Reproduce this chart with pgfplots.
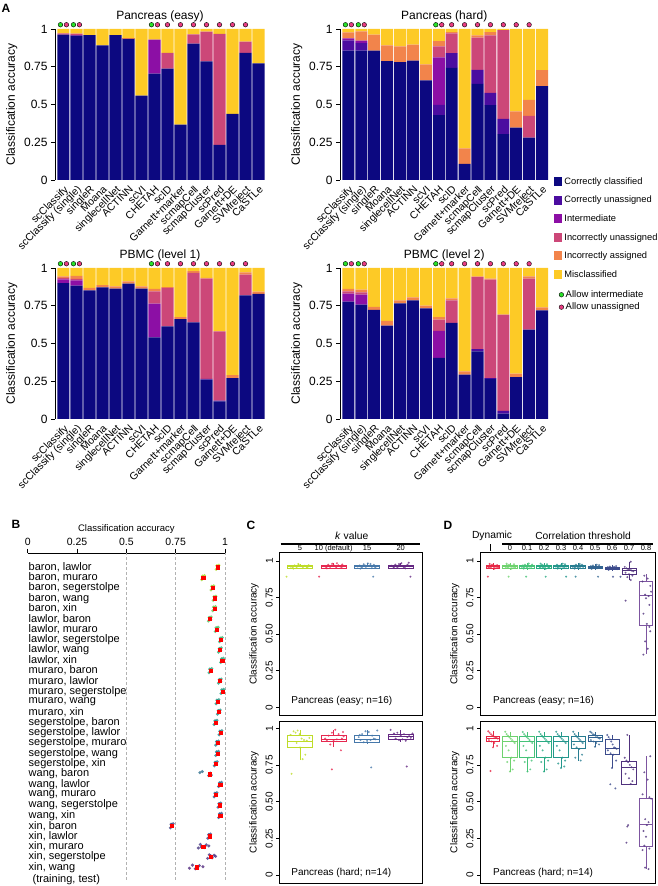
\documentclass[border=0pt]{standalone}
\usepackage{fontspec}
\setmainfont{Liberation Sans}
\usepackage{pgfplots}
\pgfplotsset{compat=1.18}
\usepgfplotslibrary{statistics}
\definecolor{cCC}{RGB}{12,8,128}
\definecolor{cCU}{RGB}{75,12,160}
\definecolor{cInt}{RGB}{140,15,165}
\definecolor{cIU}{RGB}{204,71,120}
\definecolor{cIA}{RGB}{242,132,75}
\definecolor{cMis}{RGB}{253,202,38}
\definecolor{dGreen}{RGB}{40,225,40}
\definecolor{dPink}{RGB}{232,60,130}
\definecolor{c5}{RGB}{190,220,40}
\definecolor{c10}{RGB}{230,40,80}
\definecolor{c15}{RGB}{70,120,170}
\definecolor{c20}{RGB}{100,40,130}
\definecolor{d1}{RGB}{230,40,70}
\definecolor{d2}{RGB}{110,210,110}
\definecolor{d3}{RGB}{70,195,120}
\definecolor{d4}{RGB}{40,170,130}
\definecolor{d5}{RGB}{35,150,140}
\definecolor{d6}{RGB}{40,125,145}
\definecolor{d7}{RGB}{50,100,145}
\definecolor{d8}{RGB}{60,75,140}
\definecolor{d9}{RGB}{80,50,125}
\definecolor{d10}{RGB}{125,85,160}
\tikzset{hd/.style={font=\fontsize{7.5}{7.5}\selectfont, anchor=base, inner sep=0pt, yshift=1.7pt}}
\pgfplotsset{
 Abar/.style={scale only axis, height=151pt, anchor=south west,
  ybar stacked, bar width=0.93,
  xmin=0.35, xmax=16.5, ymin=0, ymax=1,
  axis x line=bottom, axis y line=left, axis line style={-},
  x axis line style={draw=none}, xtick style={draw=none},
  xtick={1,...,16},
  xticklabels={scClassify, scClassify (single), singleR, Moana, singlecellNet, ACTINN, scVI, CHETAH, scID, Garnett+marker, scmapCell, scmapCluster, scPred, Garnett+DE, SVMreject, CaSTLe},
  xticklabel style={rotate=45, anchor=north east, font=\fontsize{10.5}{11}\selectfont, inner sep=0.5pt},
  ytick={0,0.25,0.5,0.75,1}, yticklabels={0,0.25,0.5,0.75,1},
  yticklabel style={font=\fontsize{12}{13}\selectfont},
  tick align=outside, major tick length=4pt, ytick style={black, line width=0.6pt},
  ylabel={Classification accuracy}, ylabel style={font=\fontsize{12}{13}\selectfont},
  clip=false},
 Adot/.style={scale only axis, height=151pt, anchor=south west,
  xmin=0.35, xmax=16.5, ymin=0, ymax=1, hide axis, clip=false},
 gdot/.style={only marks, mark=*, mark size=2.3pt, mark options={fill=dGreen, draw=black, line width=0.4pt}},
 pdot/.style={only marks, mark=*, mark size=2.3pt, mark options={fill=dPink, draw=black, line width=0.4pt}},
 CD/.style={scale only axis, anchor=south west, clip=false,
  boxplot/draw direction=y,
  axis line style={line width=0.9pt},
  xtick=\empty, ytick={0,0.25,0.5,0.75,1}, yticklabels={0,0.25,0.50,0.75,1},
  ytick pos=left, tick align=outside, major tick length=3pt, tick style={line width=0.5pt, black},
  yticklabel style={rotate=90, anchor=south, font=\fontsize{10}{11}\selectfont},
  ylabel={Classification accuracy}, ylabel style={font=\fontsize{10}{11}\selectfont}},
 pts/.style={only marks, mark=*, mark size=1.1pt, color=#1, mark options={draw opacity=0, fill opacity=0.8}},
 bx/.style={draw=#1, line width=0.55pt, solid, fill=none}
}
\begin{document}
\begin{tikzpicture}
\useasboundingbox (0pt,0pt) rectangle (657pt,886pt);
\node[font=\bfseries\fontsize{12}{13}\selectfont] at (6pt,878pt) {A};
\node[font=\bfseries\fontsize{12}{13}\selectfont] at (16pt,362pt) {B};
\node[font=\bfseries\fontsize{12}{13}\selectfont] at (251pt,361pt) {C};
\node[font=\bfseries\fontsize{12}{13}\selectfont] at (448pt,361pt) {D};

% ---------- Pancreas (easy)
\begin{axis}[Abar, at={(55pt,706pt)}, width=210pt]
\addplot[fill=cCC, draw=none] coordinates {(1,.962)(2,.956)(3,.960)(4,.892)(5,.960)(6,.934)(7,.558)(8,.704)(9,.737)(10,.367)(11,.903)(12,.785)(13,.232)(14,.438)(15,.841)(16,.772)};
\addplot[fill=cCU, draw=none] coordinates {(1,0)(2,0)(3,0)(4,0)(5,0)(6,0)(7,0)(8,0)(9,0)(10,0)(11,0)(12,0)(13,0)(14,0)(15,0)(16,0)};
\addplot[fill=cInt, draw=none] coordinates {(1,0)(2,.004)(3,0)(4,0)(5,0)(6,0)(7,0)(8,.225)(9,0)(10,0)(11,0)(12,0)(13,0)(14,0)(15,0)(16,0)};
\addplot[fill=cIU, draw=none] coordinates {(1,.009)(2,.009)(3,0)(4,0)(5,0)(6,0)(7,0)(8,0)(9,.104)(10,0)(11,.062)(12,.197)(13,.735)(14,0)(15,.075)(16,0)};
\addplot[fill=cIA, draw=none] coordinates {(1,0)(2,0)(3,0)(4,0)(5,0)(6,.004)(7,0)(8,0)(9,0)(10,0)(11,0)(12,0)(13,0)(14,0)(15,0)(16,0)};
\addplot[fill=cMis, draw=none] coordinates {(1,.029)(2,.031)(3,.040)(4,.108)(5,.040)(6,.062)(7,.442)(8,.071)(9,.159)(10,.633)(11,.035)(12,.018)(13,.033)(14,.562)(15,.084)(16,.228)};
\node[font=\fontsize{12}{13}\selectfont, anchor=base] at ([yshift=9pt]rel axis cs:0.5,1) {Pancreas (easy)};
\end{axis}
\begin{axis}[Adot, at={(55pt,706pt)}, width=210pt]
\addplot[gdot] coordinates {(0.77,1.028)(1.77,1.028)(7.77,1.028)};
\addplot[pdot] coordinates {(1.23,1.028)(2.23,1.028)(8.23,1.028)(9,1.028)(10,1.028)(11,1.028)(12,1.028)(13,1.028)(14,1.028)(15,1.028)};
\end{axis}

% ---------- Pancreas (hard)
\begin{axis}[Abar, at={(340pt,706pt)}, width=208.5pt,
  legend cell align=left,
  legend image code/.code={\fill[#1] (0pt,-4.5pt) rectangle (8.5pt,4.5pt);},
  legend style={at={(1.025,0.03)}, anchor=north west, draw=none, fill=none, font=\fontsize{9.3}{10}\selectfont, row sep=6.3pt, inner sep=0pt}]
\addplot[fill=cCC, draw=none] coordinates {(1,.856)(2,.856)(3,.856)(4,.788)(5,.781)(6,.790)(7,.659)(8,.429)(9,.743)(10,.106)(11,.637)(12,.496)(13,.303)(14,.347)(15,.281)(16,.622)};
\addlegendentry{Correctly classified}
\addplot[fill=cCU, draw=none] coordinates {(1,.069)(2,.051)(3,0)(4,0)(5,0)(6,0)(7,0)(8,.069)(9,.098)(10,0)(11,.093)(12,.081)(13,.102)(14,0)(15,0)(16,0)};
\addlegendentry{Correctly unassigned}
\addplot[fill=cInt, draw=none] coordinates {(1,.013)(2,.016)(3,0)(4,0)(5,0)(6,0)(7,0)(8,.314)(9,0)(10,0)(11,0)(12,0)(13,0)(14,0)(15,0)(16,0)};
\addlegendentry{Intermediate}
\addplot[fill=cIU, draw=none] coordinates {(1,0)(2,0)(3,0)(4,0)(5,0)(6,0)(7,0)(8,.073)(9,.130)(10,0)(11,.212)(12,.381)(13,.588)(14,0)(15,.144)(16,0)};
\addlegendentry{Incorrectly unassigned}
\addplot[fill=cIA, draw=none] coordinates {(1,.040)(2,.062)(3,.106)(4,.104)(5,.104)(6,.106)(7,.106)(8,.035)(9,.009)(10,.104)(11,.016)(12,.022)(13,0)(14,.107)(15,.106)(16,.106)};
\addlegendentry{Incorrectly assigned}
\addplot[fill=cMis, draw=none] coordinates {(1,.022)(2,.015)(3,.038)(4,.108)(5,.115)(6,.104)(7,.235)(8,.080)(9,.020)(10,.790)(11,.042)(12,.020)(13,.007)(14,.546)(15,.469)(16,.272)};
\addlegendentry{Misclassified}
\node[font=\fontsize{12}{13}\selectfont, anchor=base] at ([yshift=9pt]rel axis cs:0.5,1) {Pancreas (hard)};
\end{axis}
\begin{axis}[Adot, at={(340pt,706pt)}, width=208.5pt]
\addplot[gdot] coordinates {(0.77,1.028)(1.77,1.028)(7.77,1.028)};
\addplot[pdot] coordinates {(1.23,1.028)(2.23,1.028)(8.23,1.028)(9,1.028)(10,1.028)(11,1.028)(12,1.028)(13,1.028)(14,1.028)(15,1.028)};
\end{axis}

% ---------- PBMC (level 1)
\begin{axis}[Abar, at={(55pt,467pt)}, width=210pt]
\addplot[fill=cCC, draw=none] coordinates {(1,.900)(2,.883)(3,.852)(4,.872)(5,.863)(6,.896)(7,.863)(8,.541)(9,.614)(10,.662)(11,.640)(12,.260)(13,.117)(14,.271)(15,.819)(16,.828)};
\addplot[fill=cCU, draw=none] coordinates {(1,0)(2,0)(3,0)(4,0)(5,0)(6,0)(7,0)(8,0)(9,0)(10,0)(11,0)(12,.005)(13,.004)(14,0)(15,0)(16,0)};
\addplot[fill=cInt, draw=none] coordinates {(1,.025)(2,.035)(3,0)(4,0)(5,0)(6,0)(7,0)(8,.223)(9,0)(10,0)(11,0)(12,0)(13,0)(14,0)(15,0)(16,0)};
\addplot[fill=cIU, draw=none] coordinates {(1,.010)(2,.010)(3,0)(4,0)(5,0)(6,0)(7,0)(8,.081)(9,.254)(10,0)(11,.327)(12,.664)(13,.460)(14,0)(15,.137)(16,0)};
\addplot[fill=cIA, draw=none] coordinates {(1,.010)(2,.020)(3,.016)(4,.015)(5,.016)(6,.016)(7,.016)(8,.016)(9,.006)(10,.013)(11,.013)(12,.006)(13,0)(14,.019)(15,.015)(16,.015)};
\addplot[fill=cMis, draw=none] coordinates {(1,.055)(2,.052)(3,.132)(4,.113)(5,.121)(6,.088)(7,.121)(8,.139)(9,.126)(10,.325)(11,.020)(12,.065)(13,.419)(14,.710)(15,.029)(16,.157)};
\node[font=\fontsize{12}{13}\selectfont, anchor=base] at ([yshift=9pt]rel axis cs:0.5,1) {PBMC (level 1)};
\end{axis}
\begin{axis}[Adot, at={(55pt,467pt)}, width=210pt]
\addplot[gdot] coordinates {(0.77,1.028)(1.77,1.028)(7.77,1.028)};
\addplot[pdot] coordinates {(1.23,1.028)(2.23,1.028)(8.23,1.028)(9,1.028)(10,1.028)(11,1.028)(12,1.028)(13,1.028)(14,1.028)(15,1.028)};
\end{axis}

% ---------- PBMC (level 2)
\begin{axis}[Abar, at={(340pt,467pt)}, width=208.5pt]
\addplot[fill=cCC, draw=none] coordinates {(1,.777)(2,.757)(3,.722)(4,.618)(5,.766)(6,.786)(7,.733)(8,.404)(9,.636)(10,.294)(11,.448)(12,.265)(13,.035)(14,.278)(15,.592)(16,.720)};
\addplot[fill=cCU, draw=none] coordinates {(1,0)(2,0)(3,0)(4,0)(5,0)(6,0)(7,0)(8,0)(9,0)(10,0)(11,.015)(12,.005)(13,.018)(14,0)(15,0)(16,0)};
\addplot[fill=cInt, draw=none] coordinates {(1,.053)(2,.066)(3,0)(4,0)(5,0)(6,0)(7,0)(8,.179)(9,0)(10,0)(11,0)(12,0)(13,0)(14,0)(15,0)(16,0)};
\addplot[fill=cIU, draw=none] coordinates {(1,.015)(2,.015)(3,0)(4,0)(5,0)(6,0)(7,0)(8,.075)(9,.150)(10,0)(11,.477)(12,.653)(13,.638)(14,0)(15,.337)(16,0)};
\addplot[fill=cIA, draw=none] coordinates {(1,.016)(2,.019)(3,.020)(4,.031)(5,.020)(6,.020)(7,.018)(8,.017)(9,.013)(10,.022)(11,.005)(12,.007)(13,0)(14,.022)(15,.016)(16,.019)};
\addplot[fill=cMis, draw=none] coordinates {(1,.139)(2,.143)(3,.258)(4,.351)(5,.214)(6,.194)(7,.249)(8,.325)(9,.201)(10,.684)(11,.055)(12,.070)(13,.309)(14,.700)(15,.055)(16,.261)};
\node[font=\fontsize{12}{13}\selectfont, anchor=base] at ([yshift=9pt]rel axis cs:0.5,1) {PBMC (level 2)};
\end{axis}
\begin{axis}[Adot, at={(340pt,467pt)}, width=208.5pt,
  legend cell align=left,
  legend image code/.code={\draw[#1] plot coordinates {(3pt,0pt)};},
  legend style={at={(1.05,0.865)}, anchor=north west, draw=none, fill=none, font=\fontsize{9.5}{10}\selectfont, row sep=0pt, inner sep=0pt}]
\addplot[gdot] coordinates {(0.77,1.028)(1.77,1.028)(7.77,1.028)};
\addlegendentry{Allow intermediate}
\addplot[pdot] coordinates {(1.23,1.028)(2.23,1.028)(8.23,1.028)(9,1.028)(10,1.028)(11,1.028)(12,1.028)(13,1.028)(14,1.028)(15,1.028)};
\addlegendentry{Allow unassigned}
\end{axis}

% ---------- B
\begin{axis}[scale only axis, at={(27.7pt,6pt)}, anchor=south west, width=197.3pt, height=327pt,
  xmin=0, xmax=1, ymin=-1.24, ymax=30.38, clip=false,
  axis x line=top, axis y line=left, axis line style={-},
  y axis line style={draw=none}, ytick style={draw=none},
  xtick={0,0.25,0.5,0.75,1}, xticklabels={0,0.25,0.5,0.75,1},
  xticklabel style={font=\fontsize{10.5}{11}\selectfont},
  tick align=outside, major tick length=4pt, xtick style={black, line width=0.6pt},
  xlabel={Classification accuracy}, xlabel style={font=\fontsize{9.5}{10}\selectfont, yshift=-10pt},
  extra x ticks={0.5,0.75,1}, extra x tick labels={},
  extra x tick style={grid=major, major grid style={densely dashed, gray!60, line width=0.4pt}, tick style={draw=none}},
  ytick={0,...,29},
  yticklabels={{xin, wang},{xin, segerstolpe},{xin, muraro},{xin, lawlor},{xin, baron},{wang, xin},{wang, segerstolpe},{wang, muraro},{wang, lawlor},{wang, baron},{segerstolpe, xin},{segerstolpe, wang},{segerstolpe, muraro},{segerstolpe, lawlor},{segerstolpe, baron},{muraro, xin},{muraro, wang},{muraro, segerstolpe},{muraro, lawlor},{muraro, baron},{lawlor, xin},{lawlor, wang},{lawlor, segerstolpe},{lawlor, muraro},{lawlor, baron},{baron, xin},{baron, wang},{baron, segerstolpe},{baron, muraro},{baron, lawlor}},
  yticklabel style={anchor=west, inner sep=0pt, xshift=4.8pt, font=\fontsize{11}{11}\selectfont},
  colormap={bmap}{rgb255=(80,40,125) rgb255=(50,100,142) rgb255=(33,145,140) rgb255=(53,183,121) rgb255=(184,222,41)},
  point meta min=0, point meta max=29]
\addplot[scatter, only marks, mark=*, mark size=1.7pt, point meta=y,
  scatter/use mapped color={draw opacity=0, fill=mapped color, fill opacity=0.8}] coordinates {
(.955,28.8)(.959,29.15)(.966,28.95)(.969,29.2)(.962,29.1)
(.882,27.8)(.886,28.15)(.893,27.95)(.896,28.2)(.889,28.1)
(.929,26.8)(.933,27.15)(.940,26.95)(.943,27.2)(.936,27.1)
(.940,25.8)(.944,26.15)(.951,25.95)(.954,26.2)(.947,26.1)
(.938,24.8)(.942,25.15)(.949,24.95)(.952,25.2)(.945,25.1)
(.916,23.8)(.920,24.15)(.927,23.95)(.930,24.2)(.923,24.1)
(.951,22.8)(.955,23.15)(.962,22.95)(.965,23.2)(.958,23.1)
(.972,21.8)(.976,22.15)(.983,21.95)(.986,22.2)(.979,22.1)
(.967,20.8)(.971,21.15)(.978,20.95)(.981,21.2)(.974,21.1)
(.978,19.8)(.982,20.15)(.989,19.95)(.992,20.2)(.985,20.1)
(.919,18.8)(.923,19.15)(.930,18.95)(.933,19.2)(.926,19.1)
(.967,17.8)(.971,18.15)(.978,17.95)(.981,18.2)(.974,18.1)
(.980,16.8)(.984,17.15)(.991,16.95)(.994,17.2)(.987,17.1)
(.955,15.8)(.959,16.15)(.966,15.95)(.969,16.2)(.962,16.1)
(.962,14.8)(.966,15.15)(.973,14.95)(.976,15.2)(.969,15.1)
(.945,13.8)(.949,14.15)(.956,13.95)(.959,14.2)(.952,14.1)
(.970,12.8)(.974,13.15)(.981,12.95)(.984,13.2)(.977,13.1)
(.953,11.8)(.957,12.15)(.964,11.95)(.967,12.2)(.960,12.1)
(.953,10.8)(.957,11.15)(.964,10.95)(.967,11.2)(.960,11.1)
(.946,9.8)(.950,10.15)(.957,9.95)(.960,10.2)(.953,10.1)
(.873,9.15)(.885,9.25)(.917,8.85)(.925,9.1)(.930,8.9)
(.968,7.8)(.972,8.15)(.979,7.95)(.982,8.2)(.975,8.1)
(.945,6.8)(.949,7.15)(.956,6.95)(.959,7.2)(.952,7.1)
(.965,5.8)(.969,6.15)(.976,5.95)(.979,6.2)(.972,6.1)
(.968,4.8)(.972,5.15)(.979,4.95)(.982,5.2)(.975,5.1)
(.723,3.8)(.727,4.15)(.734,3.95)(.737,4.2)(.730,4.1)
(.913,2.8)(.917,3.15)(.924,2.95)(.927,3.2)(.920,3.1)
(.865,1.85)(.875,2.2)(.895,1.9)(.905,2.15)(.918,2.05)(.880,1.95)
(.912,0.85)(.920,1.2)(.935,0.9)(.945,1.15)(.952,1.05)(.928,1.1)
(.820,-0.1)(.835,0.2)(.850,-0.15)(.870,0.15)(.888,0.05)(.860,-0.05)};
\addplot[only marks, mark=square*, mark size=1.6pt, color=red] coordinates {
(.963,29)(.890,28)(.937,27)(.948,26)(.946,25)(.924,24)(.959,23)(.980,22)(.975,21)(.986,20)(.927,19)(.975,18)(.988,17)(.963,16)(.970,15)(.953,14)(.978,13)(.961,12)(.961,11)(.954,10)(.921,9)(.976,8)(.953,7)(.973,6)(.976,5)(.731,4)(.921,3)(.889,2)(.927,1)(.856,0)};
\node[anchor=west, inner sep=0pt, xshift=4.8pt, font=\fontsize{11}{11}\selectfont] at (axis cs:0,-1.24) {(training, test)};
\end{axis}

% ---------- C upper
\begin{axis}[CD, at={(279.3pt,171pt)}, width=143.4pt, height=162.3pt, xmin=0.384, xmax=4.655, ymin=-0.053, ymax=1.057]
\addplot[bx=c5, boxplot prepared={draw position=1, lower whisker=.945, lower quartile=.952, median=.962, upper quartile=.972, upper whisker=.982, box extend=0.75, whisker extend=0}] coordinates {};
\addplot[bx=c10, boxplot prepared={draw position=2, lower whisker=.945, lower quartile=.952, median=.962, upper quartile=.972, upper whisker=.985, box extend=0.75, whisker extend=0}] coordinates {};
\addplot[bx=c15, boxplot prepared={draw position=3, lower whisker=.945, lower quartile=.952, median=.962, upper quartile=.972, upper whisker=.985, box extend=0.75, whisker extend=0}] coordinates {};
\addplot[bx=c20, boxplot prepared={draw position=4, lower whisker=.945, lower quartile=.952, median=.962, upper quartile=.972, upper whisker=.988, box extend=0.75, whisker extend=0}] coordinates {};
\addplot[pts=c5] coordinates {(0.72,.962)(0.78,.955)(0.84,.970)(0.9,.958)(0.96,.975)(1.02,.965)(1.08,.952)(1.14,.968)(1.2,.96)(1.26,.972)(0.8,.948)(0.95,.98)(1.1,.962)(1.22,.955)(0.6,.893)};
\addplot[pts=c10] coordinates {(1.72,.965)(1.78,.958)(1.84,.975)(1.9,.96)(1.96,.982)(2.02,.968)(2.08,.955)(2.14,.972)(2.2,.962)(2.26,.976)(1.8,.95)(1.95,.97)(2.1,.985)(2.24,.958)(1.57,.893)};
\addplot[pts=c15] coordinates {(2.72,.962)(2.78,.97)(2.84,.955)(2.9,.978)(2.96,.96)(3.02,.984)(3.08,.966)(3.14,.952)(3.2,.974)(3.26,.962)(2.8,.948)(2.95,.968)(3.1,.98)(3.24,.958)(3.18,.893)};
\addplot[pts=c20] coordinates {(3.72,.968)(3.78,.96)(3.84,.975)(3.9,.955)(3.96,.97)(4.02,.985)(4.08,.962)(4.14,.95)(4.2,.975)(4.26,.965)(3.8,.952)(3.95,.98)(4.1,.958)(4.24,.988)(4.29,.893)};
\node[anchor=west, font=\fontsize{10}{11}\selectfont] at (rel axis cs:0.06,0.087) {Pancreas (easy; n=16)};
\draw[line width=2.2pt] ([yshift=8.7pt]rel axis cs:0.01,1) -- ([yshift=8.7pt]rel axis cs:0.981,1);
\node[hd] at (axis cs:1,1.057) {5};
\node[hd] at (axis cs:2,1.057) {10 (default)};
\node[hd] at (axis cs:3,1.057) {15};
\node[hd] at (axis cs:4,1.057) {20};
\node[font=\fontsize{10.3}{11}\selectfont] at ([yshift=16.7pt]rel axis cs:0.505,1) {\textit{k} value};
\end{axis}

% ---------- C lower
\begin{axis}[CD, at={(279.3pt,2.7pt)}, width=143.4pt, height=162.3pt, xmin=0.384, xmax=4.655, ymin=-0.057, ymax=1.05]
\addplot[bx=c5, boxplot prepared={draw position=1, lower whisker=.784, lower quartile=.868, median=.909, upper quartile=.955, upper whisker=.99, box extend=0.75, whisker extend=0}] coordinates {};
\addplot[bx=c10, boxplot prepared={draw position=2, lower whisker=.875, lower quartile=.914, median=.925, upper quartile=.95, upper whisker=.99, box extend=0.75, whisker extend=0}] coordinates {};
\addplot[bx=c15, boxplot prepared={draw position=3, lower whisker=.89, lower quartile=.905, median=.925, upper quartile=.95, upper whisker=.99, box extend=0.75, whisker extend=0}] coordinates {};
\addplot[bx=c20, boxplot prepared={draw position=4, lower whisker=.91, lower quartile=.925, median=.943, upper quartile=.96, upper whisker=.99, box extend=0.75, whisker extend=0}] coordinates {};
\addplot[pts=c5] coordinates {(0.72,.955)(0.81,.98)(0.87,.97)(0.93,.985)(0.99,.96)(1.05,.93)(1.12,.92)(1.2,.915)(0.9,.90)(1.0,.87)(1.16,.82)(1.08,.79)(0.75,.69)(1.28,.935)};
\addplot[pts=c10] coordinates {(1.75,.93)(1.85,.95)(1.95,.97)(2.05,.99)(2.15,.96)(2.25,.93)(1.8,.92)(2.0,.915)(2.1,.925)(2.3,.945)(1.9,.89)(2.22,.85)(1.95,.72)(2.28,.975)};
\addplot[pts=c15] coordinates {(2.75,.94)(2.85,.96)(2.95,.98)(3.05,.975)(3.15,.95)(3.25,.925)(2.8,.92)(3.0,.915)(3.2,.93)(3.3,.985)(2.9,.905)(3.1,.92)(3.12,.733)(2.78,.955)};
\addplot[pts=c20] coordinates {(3.7,.99)(3.8,.965)(3.9,.97)(4.0,.95)(4.1,.96)(4.2,.94)(4.3,.935)(3.85,.93)(3.95,.92)(4.05,.925)(4.15,.915)(4.25,.955)(4.18,.74)(4.35,.965)};
\node[anchor=west, font=\fontsize{10}{11}\selectfont] at (rel axis cs:0.06,0.062) {Pancreas (hard; n=14)};
\end{axis}

% ---------- D upper
\begin{axis}[CD, at={(480pt,171pt)}, width=175pt, height=162.3pt, xmin=0.235, xmax=10.53, ymin=-0.053, ymax=1.057]
\addplot[bx=d1, boxplot prepared={draw position=1, lower whisker=.94, lower quartile=.952, median=.962, upper quartile=.972, upper whisker=.985, box extend=0.75, whisker extend=0}] coordinates {};
\addplot[bx=d2, boxplot prepared={draw position=2, lower whisker=.94, lower quartile=.952, median=.962, upper quartile=.972, upper whisker=.985, box extend=0.88, whisker extend=0}] coordinates {};
\addplot[bx=d3, boxplot prepared={draw position=3, lower whisker=.94, lower quartile=.952, median=.962, upper quartile=.972, upper whisker=.985, box extend=0.88, whisker extend=0}] coordinates {};
\addplot[bx=d4, boxplot prepared={draw position=4, lower whisker=.94, lower quartile=.952, median=.962, upper quartile=.972, upper whisker=.985, box extend=0.88, whisker extend=0}] coordinates {};
\addplot[bx=d5, boxplot prepared={draw position=5, lower whisker=.94, lower quartile=.952, median=.962, upper quartile=.972, upper whisker=.985, box extend=0.88, whisker extend=0}] coordinates {};
\addplot[bx=d6, boxplot prepared={draw position=6, lower whisker=.94, lower quartile=.952, median=.962, upper quartile=.972, upper whisker=.985, box extend=0.88, whisker extend=0}] coordinates {};
\addplot[bx=d7, boxplot prepared={draw position=7, lower whisker=.94, lower quartile=.950, median=.958, upper quartile=.966, upper whisker=.978, box extend=0.85, whisker extend=0}] coordinates {};
\addplot[bx=d8, boxplot prepared={draw position=8, lower whisker=.935, lower quartile=.945, median=.952, upper quartile=.96, upper whisker=.97, box extend=0.85, whisker extend=0}] coordinates {};
\addplot[bx=d9, boxplot prepared={draw position=9, lower whisker=.87, lower quartile=.909, median=.938, upper quartile=.95, upper whisker=.995, box extend=0.8, whisker extend=0}] coordinates {};
\addplot[bx=d10, boxplot prepared={draw position=10, lower whisker=.362, lower quartile=.563, median=.768, upper quartile=.859, upper whisker=.909, box extend=0.77, whisker extend=0}] coordinates {};
\addplot[pts=d1] coordinates {(0.7,.962)(0.76,.955)(0.82,.97)(0.88,.958)(0.94,.975)(1.0,.965)(1.06,.952)(1.12,.968)(1.18,.96)(1.24,.972)(1.3,.957)(0.8,.98)(1.1,.948)(0.7,.893)};
\addplot[pts=d2] coordinates {(1.7,.965)(1.76,.958)(1.82,.972)(1.88,.955)(1.94,.975)(2.0,.962)(2.06,.95)(2.12,.968)(2.18,.96)(2.24,.978)(2.3,.955)(1.8,.982)(2.1,.948)(1.92,.893)};
\addplot[pts=d3] coordinates {(2.7,.96)(2.76,.97)(2.82,.955)(2.88,.975)(2.94,.962)(3.0,.958)(3.06,.972)(3.12,.95)(3.18,.966)(3.24,.96)(3.3,.976)(2.8,.948)(3.1,.983)(2.95,.893)};
\addplot[pts=d4] coordinates {(3.7,.968)(3.76,.955)(3.82,.962)(3.88,.975)(3.94,.958)(4.0,.97)(4.06,.952)(4.12,.965)(4.18,.978)(4.24,.96)(4.3,.955)(3.8,.982)(4.1,.947)(4.1,.893)};
\addplot[pts=d5] coordinates {(4.7,.962)(4.76,.975)(4.82,.955)(4.88,.968)(4.94,.96)(5.0,.972)(5.06,.95)(5.12,.965)(5.18,.958)(5.24,.978)(5.3,.962)(4.8,.948)(5.1,.982)(5.3,.893)};
\addplot[pts=d6] coordinates {(5.7,.96)(5.76,.968)(5.82,.955)(5.88,.975)(5.94,.962)(6.0,.958)(6.06,.97)(6.12,.952)(6.18,.965)(6.24,.975)(6.3,.96)(5.8,.948)(6.1,.98)(5.86,.893)};
\addplot[pts=d7] coordinates {(6.7,.958)(6.76,.965)(6.82,.952)(6.88,.97)(6.94,.96)(7.0,.955)(7.06,.966)(7.12,.95)(7.18,.962)(7.24,.972)(7.3,.958)(6.8,.946)(7.1,.975)(7.18,.893)};
\addplot[pts=d8] coordinates {(7.7,.952)(7.76,.958)(7.82,.945)(7.88,.962)(7.94,.95)(8.0,.955)(8.06,.948)(8.12,.96)(8.18,.952)(8.24,.965)(8.3,.945)(7.8,.94)(8.06,.893)(8.5,.893)};
\addplot[pts=d9] coordinates {(9.1,.995)(8.75,.96)(8.85,.95)(8.95,.945)(9.05,.94)(9.15,.935)(9.25,.93)(8.8,.92)(9.0,.91)(9.2,.90)(8.9,.89)(9.1,.87)(8.8,.729)};
\addplot[pts=d9] coordinates {(9.9,.90)(10.1,.88)(9.8,.86)(10.25,.83)(10.3,.79)(9.95,.77)(10.15,.76)(10.0,.745)(10.2,.70)(9.85,.64)(10.05,.57)(10.25,.52)(9.95,.45)(10.1,.40)(9.85,.36)(10.2,.55)};
\node[anchor=west, font=\fontsize{10}{11}\selectfont] at (rel axis cs:0.055,0.087) {Pancreas (easy; n=16)};
\draw[line width=2.2pt] ([yshift=8.7pt]rel axis cs:0.126,1) -- ([yshift=8.7pt]rel axis cs:0.989,1);
\draw[line width=1.6pt] ([yshift=1.7pt]rel axis cs:0.061,1) -- ([yshift=8.7pt]rel axis cs:0.061,1);
\node[hd] at (axis cs:2,1.057) {0};
\node[hd] at (axis cs:3,1.057) {0.1};
\node[hd] at (axis cs:4,1.057) {0.2};
\node[hd] at (axis cs:5,1.057) {0.3};
\node[hd] at (axis cs:6,1.057) {0.4};
\node[hd] at (axis cs:7,1.057) {0.5};
\node[hd] at (axis cs:8,1.057) {0.6};
\node[hd] at (axis cs:9,1.057) {0.7};
\node[hd] at (axis cs:10,1.057) {0.8};
\node[font=\fontsize{10.3}{11}\selectfont] at ([yshift=16.7pt]rel axis cs:0.589,1) {Correlation threshold};
\node[font=\fontsize{10.3}{11}\selectfont] at ([yshift=16.7pt]rel axis cs:0.069,1) {Dynamic};
\end{axis}

% ---------- D lower
\begin{axis}[CD, at={(480pt,2.7pt)}, width=175pt, height=162.3pt, xmin=0.235, xmax=10.53, ymin=-0.057, ymax=1.05]
\addplot[bx=d1, boxplot prepared={draw position=1, lower whisker=.87, lower quartile=.909, median=.932, upper quartile=.943, upper whisker=.98, box extend=0.75, whisker extend=0}] coordinates {};
\addplot[bx=d2, boxplot prepared={draw position=2, lower whisker=.705, lower quartile=.80, median=.909, upper quartile=.943, upper whisker=.977, box extend=0.88, whisker extend=0}] coordinates {};
\addplot[bx=d3, boxplot prepared={draw position=3, lower whisker=.705, lower quartile=.80, median=.909, upper quartile=.943, upper whisker=.977, box extend=0.88, whisker extend=0}] coordinates {};
\addplot[bx=d4, boxplot prepared={draw position=4, lower whisker=.705, lower quartile=.80, median=.909, upper quartile=.943, upper whisker=.977, box extend=0.88, whisker extend=0}] coordinates {};
\addplot[bx=d5, boxplot prepared={draw position=5, lower whisker=.73, lower quartile=.80, median=.909, upper quartile=.943, upper whisker=.977, box extend=0.88, whisker extend=0}] coordinates {};
\addplot[bx=d6, boxplot prepared={draw position=6, lower whisker=.78, lower quartile=.864, median=.909, upper quartile=.943, upper whisker=.977, box extend=0.85, whisker extend=0}] coordinates {};
\addplot[bx=d7, boxplot prepared={draw position=7, lower whisker=.875, lower quartile=.909, median=.936, upper quartile=.955, upper whisker=.977, box extend=0.85, whisker extend=0}] coordinates {};
\addplot[bx=d8, boxplot prepared={draw position=8, lower whisker=.727, lower quartile=.823, median=.864, upper quartile=.925, upper whisker=.955, box extend=0.85, whisker extend=0}] coordinates {};
\addplot[bx=d9, boxplot prepared={draw position=9, lower whisker=.618, lower quartile=.618, median=.732, upper quartile=.773, upper whisker=.955, box extend=0.85, whisker extend=0}] coordinates {};
\addplot[bx=d10, boxplot prepared={draw position=10, lower whisker=.041, lower quartile=.193, median=.345, upper quartile=.523, upper whisker=.814, box extend=0.77, whisker extend=0}] coordinates {};
\addplot[pts=d1] coordinates {(0.72,.98)(0.8,.97)(0.88,.96)(0.96,.95)(1.04,.945)(1.12,.94)(1.2,.935)(1.28,.93)(0.76,.92)(0.92,.91)(1.08,.90)(1.24,.88)(1.0,.87)(0.85,.709)};
\addplot[pts=d2] coordinates {(1.72,.977)(1.8,.96)(1.88,.95)(1.96,.94)(2.04,.93)(2.12,.92)(2.2,.91)(2.28,.90)(1.76,.88)(1.92,.85)(2.08,.80)(2.24,.78)(1.84,.77)(2.16,.72)(2.0,.705)};
\addplot[pts=d3] coordinates {(2.75,.975)(2.83,.96)(2.91,.95)(2.99,.94)(3.07,.93)(3.15,.92)(3.23,.91)(3.31,.90)(2.79,.88)(2.95,.85)(3.11,.80)(3.27,.78)(2.87,.77)(3.19,.72)(3.03,.705)};
\addplot[pts=d4] coordinates {(3.72,.977)(3.8,.96)(3.88,.95)(3.96,.94)(4.04,.93)(4.12,.92)(4.2,.91)(4.28,.90)(3.76,.88)(3.92,.85)(4.08,.80)(4.24,.78)(3.84,.77)(4.16,.72)(4.0,.705)};
\addplot[pts=d5] coordinates {(4.72,.977)(4.8,.96)(4.88,.95)(4.96,.94)(5.04,.93)(5.12,.92)(5.2,.91)(5.28,.90)(4.76,.88)(4.92,.85)(5.08,.80)(5.24,.78)(4.84,.76)(5.19,.74)(5.0,.73)};
\addplot[pts=d6] coordinates {(5.72,.977)(5.8,.96)(5.88,.95)(5.96,.94)(6.04,.93)(6.12,.92)(6.2,.91)(6.28,.90)(5.76,.89)(5.92,.87)(6.08,.86)(6.24,.82)(5.84,.80)(6.16,.78)};
\addplot[pts=d7] coordinates {(6.72,.977)(6.8,.97)(6.88,.96)(6.96,.955)(7.04,.95)(7.12,.94)(7.2,.935)(7.28,.93)(6.76,.92)(6.92,.91)(7.08,.90)(7.24,.89)(7.0,.875)};
\addplot[pts=d8] coordinates {(7.72,.955)(7.8,.94)(7.88,.925)(7.96,.91)(8.04,.89)(8.12,.87)(8.2,.865)(8.28,.86)(7.76,.85)(7.92,.83)(8.08,.82)(8.24,.78)(8.0,.73)(7.9,.618)(8.2,.59)};
\addplot[pts=d9] coordinates {(8.9,.955)(8.75,.80)(8.85,.78)(8.95,.77)(9.05,.75)(9.15,.735)(9.25,.72)(8.8,.69)(9.0,.66)(9.2,.64)(9.1,.62)(8.95,.34)(8.9,.33)(8.85,.22)};
\addplot[pts=d9] coordinates {(10.25,.81)(9.9,.70)(10.1,.65)(9.8,.55)(10.2,.53)(10.3,.52)(9.95,.38)(10.15,.36)(10.05,.34)(9.85,.30)(10.0,.26)(9.9,.20)(10.2,.18)(9.8,.17)(9.95,.05)(10.15,.04)};
\node[anchor=west, font=\fontsize{10}{11}\selectfont] at (rel axis cs:0.055,0.062) {Pancreas (hard; n=14)};
\end{axis}
\end{tikzpicture}
\end{document}
